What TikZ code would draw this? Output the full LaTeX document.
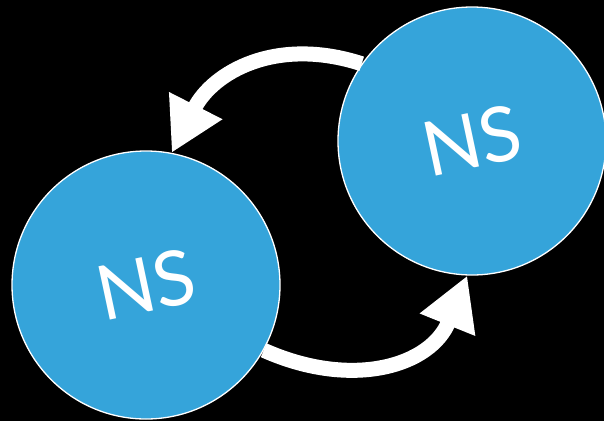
\documentclass[tikz,border=0pt]{standalone}
\usepackage{fontspec}
\setmainfont{Lato}
\usepackage{tikz}
\usetikzlibrary{positioning,arrows.meta,calc}

\definecolor{nsblue}{HTML}{35A4DA}

\begin{document}
\begin{tikzpicture}[x=1pt,y=1pt,
		nscircle/.style={draw=white, line width=1.3pt, circle, fill=nsblue, inner sep=0pt, minimum size=268pt, text=white, font=\fontsize{76}{80}\selectfont},
		nsarrow/.style={line width=15pt, white, -{Triangle[length=53pt,width=56pt]}}]
			\begingroup
			\fill[black] (0,0) rectangle (604,-421);
			\useasboundingbox (0,0) rectangle (604,-421);
			
			\node[nscircle] (ns1) at (146,-285) {\rotatebox{12}{NS}};
			\node[nscircle] (ns2) at (472,-141) {\rotatebox{12}{NS}};
			
			\draw[nsarrow] (ns2.145) to[out=162, in=63, looseness=1.1] (ns1.79);
			\draw[nsarrow] (ns1.-29) to[out=-24, in=248, looseness=1.15] (ns2.268);
			
			\endgroup
			\end{tikzpicture}
\end{document}
